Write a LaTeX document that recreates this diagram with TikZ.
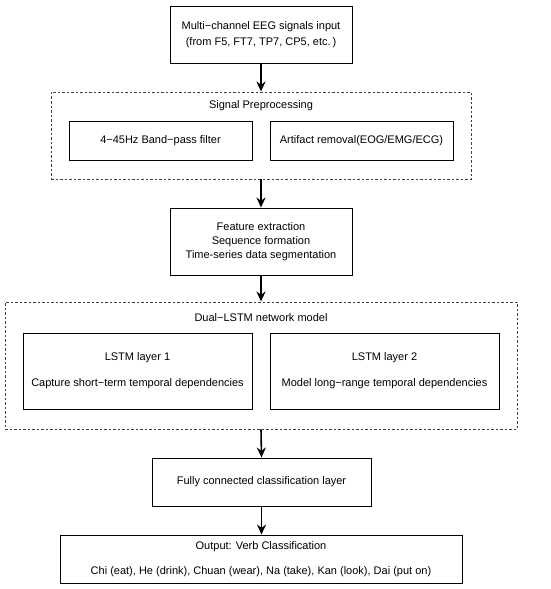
\documentclass[tikz,border=0pt]{standalone}
\usepackage{fontspec}
\setmainfont{Liberation Sans}
\usetikzlibrary{arrows.meta}

\begin{document}
\begin{tikzpicture}[x=1pt,y=-1pt,font=\fontsize{11}{13}\selectfont]

% ---------- common style ----------
\tikzstyle{block}=[draw=black,line width=0.9pt,align=center,inner sep=0pt]
\tikzstyle{group}=[draw=black!75,dash pattern=on 2.5pt off 2pt,line width=0.9pt,inner sep=0pt]
\tikzstyle{flow}=[-{Stealth[length=10pt,width=9pt]},line width=1.6pt]

\useasboundingbox (0,0) rectangle (550,589);

% ================== input ==================
\node[block,minimum width=182pt,minimum height=57pt] (input) at (261,34.5)
      {Multi−channel EEG signals input\\[3pt] (from F5, FT7, TP7, CP5, etc.\,)};

% ================== preprocessing ==================
\node[group,minimum width=420pt,minimum height=87pt] (prep) at (261,135.5) {};
\node (prepTitle) at (261,106) {Signal Preprocessing};
\node[block,minimum width=183pt,minimum height=39pt] (filter) at (160.5,140.5)
      {4−45Hz Band−pass filter};
\node[block,minimum width=183pt,minimum height=39pt] (artifact) at (361.5,140.5)
      {Artifact removal(EOG/EMG/ECG)};

% ================== features ==================
\node[block,minimum width=182pt,minimum height=67pt] (feature) at (261,241.5)
      {Feature extraction\\[1.2pt] Sequence formation\\[1.2pt] Time-series data segmentation};

% ================== Dual-LSTM ==================
\node[group,minimum width=512pt,minimum height=127pt] (lstm) at (261,365.5) {};
\node (lstmTitle) at (261,318) {Dual−LSTM network model};
\node[block,minimum width=229pt,minimum height=76pt] (lstmA) at (137.5,371)
      {LSTM layer 1\\[13pt] Capture short−term temporal dependencies};
\node[block,minimum width=229pt,minimum height=76pt] (lstmB) at (384.5,371)
      {LSTM layer 2\\[13pt] Model long−range temporal dependencies};

% ================== classifier + output ==================
\node[block,minimum width=219pt,minimum height=48pt] (fc) at (261.5,482)
      {Fully connected classification layer};
\node[block,minimum width=402pt,minimum height=48pt] (output) at (261,559)
      {Output: Verb Classification\\[12pt] Chi (eat), He (drink), Chuan (wear), Na (take), Kan (look), Dai (put on)};

% arrows
\draw[flow] (input.south)   -- (prep.north);
\draw[flow] (prep.south)    -- (feature.north);
\draw[flow] (feature.south) -- (lstm.north);
\draw[flow] (lstm.south)    -- (fc.north);
\draw[flow] (fc.south)      -- (fc.south |- output.north);

\end{tikzpicture}
\end{document}
